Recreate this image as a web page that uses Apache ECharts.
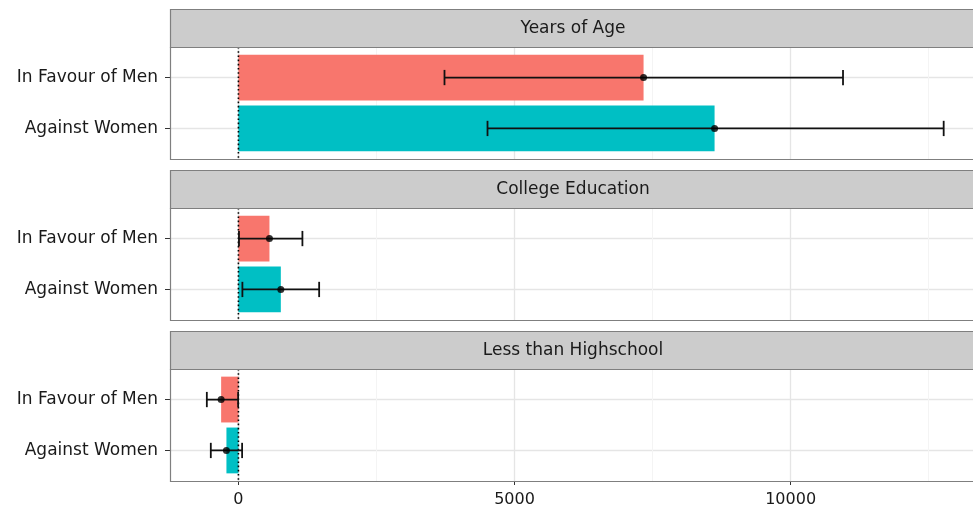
<!DOCTYPE html>
<html>
<head>
<meta charset="utf-8">
<script src="https://cdn.jsdelivr.net/npm/echarts@6/dist/echarts.min.js"></script>
<style>
  html, body { margin: 0; padding: 0; background: #fff; }
  #chart { width: 973px; height: 510px; }
</style>
</head>
<body>
<div id="chart"></div>
<script>
// Facet titles and the two comparison groups
const panels = ['Years of Age', 'College Education', 'Less than Highschool'];
const groups = ['In Favour of Men', 'Against Women'];

// Point estimates per facet (same order as panels)
const estMen = [7337, 562, -313];
const estWomen = [8623, 768, -217];

// Confidence interval bounds per facet
const lowMen = [3732, 10, -572];
const highMen = [10949, 1159, -5];
const lowWomen = [4511, 72, -500];
const highWomen = [12772, 1462, 67];

// Axis ticks
const xTicks = [0, 5000, 10000];
const xMinorTicks = [2500, 7500, 12500];
const zeroRef = 0;

// Visible scale limits (the panel runs slightly past the right edge of the canvas)
const xMin = -1239, xMax = 13303;
const yMin = 0.4, yMax = 2.6;

// Styling
const barColors = ['#F8766D', '#00BFC4'];
const FONT = 'DejaVu Sans';
const TEXT = '#1a1a1a';
const BORDER = '#7f7f7f';

// Layout
const panelLeft = 170, plotWidth = 803, frameWidth = 810;
const stripTop = 9, stripH = 38, bodyH = 112, step = 161;

const grids = [], xAxes = [], yAxes = [], series = [], graphics = [];

panels.forEach((name, i) => {
  const bodyTop = stripTop + stripH + step * i;
  const last = i === panels.length - 1;

  grids.push({
    left: panelLeft, top: bodyTop, width: plotWidth, height: bodyH,
    show: false
  });

  // major x axis
  xAxes.push({
    gridIndex: i, type: 'value', min: xMin, max: xMax, position: 'bottom',
    axisLine: { show: false, onZero: false },
    axisTick: { show: last, customValues: xTicks, length: 4, lineStyle: { color: '#333', width: 1 } },
    axisLabel: {
      show: last, customValues: xTicks, margin: 11, fontFamily: FONT, fontSize: 16, color: TEXT,
      formatter: v => String(v)
    },
    splitLine: { show: true, lineStyle: { color: '#e5e5e5', width: 1.3 } }
  });
  // minor vertical gridlines
  xAxes.push({
    gridIndex: i, type: 'value', min: xMin, max: xMax, position: 'top',
    axisLine: { show: false, onZero: false },
    axisTick: { show: false, customValues: xMinorTicks },
    axisLabel: { show: false, customValues: xMinorTicks },
    splitLine: { show: true, lineStyle: { color: '#f4f4f4', width: 1 } }
  });

  yAxes.push({
    gridIndex: i, type: 'value', inverse: true, min: yMin, max: yMax, position: 'left',
    axisLine: { show: false, onZero: false },
    axisTick: { show: true, customValues: [1, 2], length: 5, lineStyle: { color: '#333', width: 1 } },
    axisLabel: {
      customValues: [1, 2], margin: 12, fontFamily: FONT, fontSize: 17, color: TEXT,
      formatter: v => groups[Math.round(v) - 1]
    },
    splitLine: { show: true, lineStyle: { color: '#e5e5e5', width: 1.3 } }
  });

  const xi = 2 * i;

  // bars
  series.push({
    type: 'custom', xAxisIndex: xi, yAxisIndex: i, z: 2,
    encode: { x: 0, y: 1 },
    data: [[estMen[i], 1, 0], [estWomen[i], 2, 1]],
    renderItem: (params, api) => {
      const v = api.value(0), y = api.value(1);
      const p0 = api.coord([0, y]);
      const p1 = api.coord([v, y]);
      const h = api.size([0, 0.9])[1];
      return {
        type: 'rect',
        shape: { x: Math.min(p0[0], p1[0]), y: p0[1] - h / 2, width: Math.abs(p1[0] - p0[0]), height: h },
        style: { fill: barColors[api.value(2)] }
      };
    }
  });

  // dotted reference line at zero
  series.push({
    type: 'line', xAxisIndex: xi, yAxisIndex: i, z: 3,
    data: [[zeroRef, yMin], [zeroRef, yMax]],
    showSymbol: false, silent: true,
    lineStyle: { color: '#000', width: 1.6, type: [1.6, 2.6] }
  });

  // error bars
  series.push({
    type: 'custom', xAxisIndex: xi, yAxisIndex: i, z: 4,
    encode: { x: [0, 1], y: 2 },
    data: [[lowMen[i], highMen[i], 1], [lowWomen[i], highWomen[i], 2]],
    renderItem: (params, api) => {
      const y = api.value(2);
      const lo = api.coord([api.value(0), y]);
      const hi = api.coord([api.value(1), y]);
      const c = api.size([0, 0.3])[1] / 2;
      const st = { stroke: '#111', lineWidth: 1.8 };
      return {
        type: 'group',
        children: [
          { type: 'line', shape: { x1: lo[0], y1: lo[1], x2: hi[0], y2: hi[1] }, style: st },
          { type: 'line', shape: { x1: lo[0], y1: lo[1] - c, x2: lo[0], y2: lo[1] + c }, style: st },
          { type: 'line', shape: { x1: hi[0], y1: hi[1] - c, x2: hi[0], y2: hi[1] + c }, style: st }
        ]
      };
    }
  });

  // point estimates
  series.push({
    type: 'scatter', xAxisIndex: xi, yAxisIndex: i, z: 5,
    data: [[estMen[i], 1], [estWomen[i], 2]],
    symbol: 'circle', symbolSize: 7, silent: true,
    itemStyle: { color: '#000' }
  });

  // panel frame
  graphics.push({
    type: 'rect', z: 9, silent: true,
    shape: { x: panelLeft + 0.5, y: bodyTop + 0.5, width: frameWidth, height: bodyH },
    style: { fill: null, stroke: BORDER, lineWidth: 1.2 }
  });

  // facet strip
  const sTop = stripTop + step * i;
  graphics.push({
    type: 'rect', z: 10,
    shape: { x: panelLeft + 0.5, y: sTop + 0.5, width: frameWidth, height: stripH },
    style: { fill: '#cccccc', stroke: BORDER, lineWidth: 1.2 }
  });
  graphics.push({
    type: 'text', z: 11,
    x: panelLeft + frameWidth / 2 - 2, y: sTop + stripH / 2 + 1,
    style: {
      text: name, font: '17px "' + FONT + '"', fill: TEXT,
      align: 'center', verticalAlign: 'middle',
      textAlign: 'center', textVerticalAlign: 'middle'
    }
  });
});

const chart = echarts.init(document.getElementById('chart'), null, { renderer: 'canvas' });
chart.setOption({
  backgroundColor: '#fff',
  animation: false,
  grid: grids,
  xAxis: xAxes,
  yAxis: yAxes,
  series: series,
  graphic: graphics
});
</script>
</body>
</html>
